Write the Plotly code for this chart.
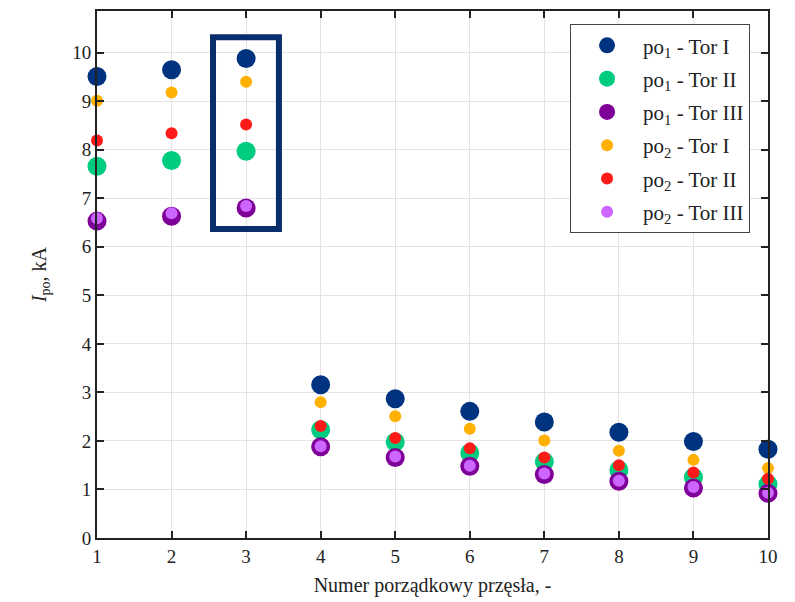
import plotly.graph_objects as go

przesla = [1, 2, 3, 4, 5, 6, 7, 8, 9, 10]

po1_tor1 = [9.51, 9.65, 9.88, 3.16, 2.87, 2.61, 2.39, 2.18, 1.99, 1.83]
po1_tor2 = [7.66, 7.78, 7.97, 2.23, 1.98, 1.75, 1.57, 1.40, 1.25, 1.11]
po1_tor3 = [6.53, 6.63, 6.80, 1.88, 1.66, 1.48, 1.31, 1.17, 1.03, 0.92]
po2_tor1 = [9.01, 9.18, 9.40, 2.80, 2.51, 2.25, 2.01, 1.80, 1.61, 1.44]
po2_tor2 = [8.19, 8.34, 8.52, 2.31, 2.06, 1.85, 1.66, 1.50, 1.35, 1.22]
po2_tor3 = [6.59, 6.69, 6.84, 1.89, 1.68, 1.49, 1.33, 1.18, 1.05, 0.93]

names = ["po<sub>1</sub> - Tor I", "po<sub>1</sub> - Tor II", "po<sub>1</sub> - Tor III",
         "po<sub>2</sub> - Tor I", "po<sub>2</sub> - Tor II", "po<sub>2</sub> - Tor III"]
series = [po1_tor1, po1_tor2, po1_tor3, po2_tor1, po2_tor2, po2_tor3]
colors = ["#00337F", "#00CC80", "#7F0099", "#FFB000", "#FF1A1A", "#CC66FF"]
sizes = [19, 19, 19, 12, 12, 12]

fig = go.Figure()
for i, (n, s, c, sz) in enumerate(zip(names, series, colors, sizes)):
    fig.add_trace(go.Scatter(x=przesla, y=s, mode="markers", name=n, legendgroup=f"g{i}",
                             marker=dict(color=c, size=sz, line=dict(width=0)),
                             cliponaxis=False))

# highlight box around span 3
fig.add_shape(type="rect", xref="x", yref="y", x0=2.556, x1=3.44, y0=6.37, y1=10.32,
              line=dict(color="#0A2D6B", width=6), layer="above")

font = "Liberation Serif"
axis_common = dict(showline=True, linecolor="#222222", linewidth=2, mirror="ticks",
                   ticks="inside", ticklen=7, tickwidth=2, tickcolor="#222222",
                   showgrid=True, gridcolor="#E3E3E3", gridwidth=1, zeroline=False,
                   tickfont=dict(family=font, size=19, color="#222222"))

fig.update_layout(
    width=795, height=602,
    margin=dict(l=89, r=35, t=1, b=72),
    paper_bgcolor="white", plot_bgcolor="white",
    font=dict(family=font, size=19, color="#222222"),
    xaxis=dict(range=[1, 10], dtick=1, tick0=1,
               title=dict(text="Numer porządkowy przęsła, -", font=dict(family=font, size=20), standoff=12),
               **axis_common),
    yaxis=dict(range=[0, 10.86], dtick=1, tick0=0,
               title=dict(text="<i>I</i><sub>po</sub>, kA", font=dict(family=font, size=20), standoff=20),
               **axis_common),
    legend=dict(x=0.705, y=0.975, xanchor="left", yanchor="top",
                bgcolor="white", bordercolor="#444444", borderwidth=1,
                font=dict(family=font, size=21, color="#222222"),
                tracegroupgap=3, itemsizing="trace", itemwidth=62),
    showlegend=True,
)

fig.write_html("out.html")
